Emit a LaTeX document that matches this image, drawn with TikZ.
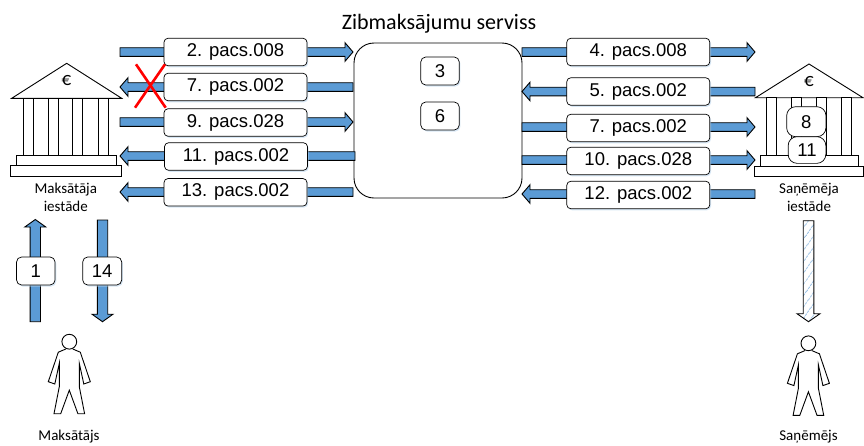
\documentclass[tikz,border=0pt]{standalone}
\usepackage{fontspec}
\setmainfont{Carlito}
\newfontfamily\arialf{Liberation Sans}
\usetikzlibrary{calc,shadows,patterns.meta}
\definecolor{arrowblue}{HTML}{5B9BD5}
\definecolor{stripeblue}{HTML}{9DC3E6}
\definecolor{shadowblue}{HTML}{BDD7EE}
\newcommand\boxfont{\arialf\fontsize{18.5}{22}\selectfont}
% block arrow: #1 extra options, #2 tail coordinate, #3 tip coordinate,
% #4 shaft half width, #5 head half width, #6 head length
\newcommand\blockarrow[6][]{%
  \coordinate (ba-h) at ($(#3)!#6!(#2)$);
  \draw[barrow,#1] ($(#2)!#4!90:(#3)$) -- ($(ba-h)!#4!90:(#3)$) -- ($(ba-h)!#5!90:(#3)$)
    -- (#3) -- ($(ba-h)!#5!-90:(#3)$) -- ($(ba-h)!#4!-90:(#3)$) -- ($(#2)!#4!-90:(#3)$) -- cycle;
}
\newcommand\personfig[2]{%
  \begin{scope}[shift={(#1,#2)}]
    \draw[personline] (0,0) circle (7.4);
    \draw[personline] (-3.5,7.3) -- (-11,10.5) -- (-21,40) -- (-14.5,42.3) -- (-10,21.6)
      -- (-10,45) -- (-15.3,72) -- (-8.6,72) -- (0,48.5) -- (8.6,72) -- (15.3,72)
      -- (10,45) -- (10,21.6) -- (14.5,42.3) -- (21,40) -- (11,10.5) -- (3.5,7.3);
  \end{scope}
}
\begin{document}
\begin{tikzpicture}[x=1pt,y=-1pt,
  lbl/.style={draw=black, line width=0.7pt, fill=white, rounded corners=4pt,
    minimum width=143pt, minimum height=27.5pt, inner sep=0pt, font=\boxfont,
    drop shadow={shadow xshift=1.2pt, shadow yshift=-1.5pt, fill=shadowblue, opacity=0.6}},
  numbox/.style={lbl, minimum width=38.5pt, minimum height=28pt, rounded corners=5pt},
  bankbox/.style={draw=black, line width=0.7pt, fill=white, rounded corners=9pt,
    inner sep=0pt, font=\boxfont},
  barrow/.style={draw=black, line width=0.9pt, fill=arrowblue, line join=miter},
  bankline/.style={draw=black, line width=0.9pt, fill=white},
  personline/.style={draw=black, line width=0.9pt, line join=miter},
  lab/.style={font=\fontsize{15}{18}\selectfont, inner sep=0pt, anchor=base},
  euro/.style={font=\fontsize{19}{21}\selectfont, inner sep=0pt},
]
\useasboundingbox (0,0) rectangle (864,445);

% title and service box
\node[font=\fontsize{22}{26}\selectfont, inner sep=0pt, anchor=base] (title) at (439,29.3) {Zibmaksājumu serviss};
\node[draw=black, line width=0.9pt, rounded corners=20pt, minimum width=168pt,
  minimum height=155pt, inner sep=0pt] (srv) at (438,120.5) {};

% arrow end coordinates, left side
\coordinate (aL1) at (120,52);   \coordinate (bL1) at (353,52);
\coordinate (aL2) at (120,87);   \coordinate (bL2) at (353,87);
\coordinate (aL3) at (120,122);  \coordinate (bL3) at (353,122);
\coordinate (aL4) at (120,156);  \coordinate (bL4) at (355,156);
\coordinate (aL5) at (120,192);  \coordinate (bL5) at (353,192);
% right side
\coordinate (aR1) at (522,52);   \coordinate (bR1) at (755,52);
\coordinate (aR2) at (522,91.5); \coordinate (bR2) at (755,91.5);
\coordinate (aR3) at (522,127);  \coordinate (bR3) at (755,127);
\coordinate (aR4) at (522,160);  \coordinate (bR4) at (755,160);
\coordinate (aR5) at (522,194);  \coordinate (bR5) at (755,194);

\blockarrow{aL1}{bL1}{4.3pt}{9.3pt}{8pt}
\blockarrow{bL2}{aL2}{4.3pt}{9.3pt}{8pt}
\blockarrow{aL3}{bL3}{4.3pt}{9.3pt}{8pt}
\blockarrow{bL4}{aL4}{4.3pt}{9.3pt}{8pt}
\blockarrow{bL5}{aL5}{4.3pt}{9.3pt}{8pt}
\blockarrow{aR1}{bR1}{4.3pt}{9.3pt}{8pt}
\blockarrow{bR2}{aR2}{4.3pt}{9.3pt}{8pt}
\blockarrow{aR3}{bR3}{4.3pt}{9.3pt}{8pt}
\blockarrow{aR4}{bR4}{4.3pt}{9.3pt}{8pt}
\blockarrow{bR5}{aR5}{4.3pt}{9.3pt}{8pt}

% message labels
\node[lbl] (m2)  at (235.5,52)  {2. pacs.008};
\node[lbl] (m7a) at (235.5,87)  {7. pacs.002};
\node[lbl] (m9)  at (235.5,122.5) {9. pacs.028};
\node[lbl] (m11) at (236,156.5) {11. pacs.002};
\node[lbl] (m13) at (235.5,192.3) {13. pacs.002};
\node[lbl] (m4)  at (638.3,52)  {4. pacs.008};
\node[lbl] (m5)  at (638.3,91.5) {5. pacs.002};
\node[lbl] (m7b) at (638.3,128) {7. pacs.002};
\node[lbl] (m10) at (638.3,161) {10. pacs.028};
\node[lbl] (m12) at (638.3,195) {12. pacs.002};

% steps inside the service
\node[numbox] (s3) at (440,71)  {3};
\node[numbox] (s6) at (440,116) {6};

% red cross
\draw[red, line width=2.6pt] (136,64.3) -- (165.7,107.7);
\draw[red, line width=2.6pt] (165,64.3) -- (135,107.7);

% payer bank
\path[bankline] (11.7,98.3) -- (66.7,63.3) -- (121.7,98.3) -- cycle;
\foreach \x in {23.3,48.3,72.7,98.3} \path[bankline] (\x,98.3) rectangle ++(10,56.7);
\path[bankline] (16.7,155) rectangle (116.7,165.7);
\path[bankline] (10.7,165.7) rectangle (121.7,176.7);
\node[euro] (euroL) at (66.5,81) {€};
\node[lab] (bankL1) at (65.8,193) {Maksātāja};
\node[lab] (bankL2) at (65.8,211.5) {iestāde};

% payee bank
\path[bankline] (755.5,97.7) -- (809,64) -- (863,97.7) -- cycle;
\foreach \x in {766.7,791.7,816.7,841.7} \path[bankline] (\x,97.7) rectangle ++(10,57.3);
\path[bankline] (760,155) rectangle (858.3,166);
\path[bankline] (754.3,166) rectangle (863.3,176.7);
\node[euro] (euroR) at (809,82) {€};
\node[bankbox, minimum width=39.3pt, minimum height=30pt] (b8) at (806.3,121.7) {8};
\node[bankbox, minimum width=37.7pt, minimum height=26.7pt] (b11) at (807,150) {11};
\node[lab] (bankR1) at (809,193) {Saņēmēja};
\node[lab] (bankR2) at (809,211.5) {iestāde};

% vertical arrows
\coordinate (v1t) at (35.3,321.7);  \coordinate (v1h) at (35.3,219.5);
\coordinate (v2t) at (102.5,220);   \coordinate (v2h) at (102.5,321.7);
\coordinate (v3t) at (808.5,220.7); \coordinate (v3h) at (808.5,321.7);
\blockarrow{v1t}{v1h}{5.2pt}{10.5pt}{7.5pt}
\blockarrow{v2t}{v2h}{5.2pt}{10.5pt}{7.5pt}
\blockarrow[fill=none, preaction={fill=white},
  preaction={pattern={Lines[angle=55,distance=6.5pt,line width=1pt]}, pattern color=stripeblue}]
  {v3t}{v3h}{5.3pt}{11.5pt}{8pt}
\node[numbox] (n1)  at (35.8,271)  {1};
\node[numbox, minimum width=39pt] (n14) at (102.2,271) {14};

% persons
\personfig{69.3}{341.7}
\personfig{808.4}{343.3}
\node[lab] (payer) at (69,440.5) {Maksātājs};
\node[lab] (payee) at (808.5,440.5) {Saņēmējs};
\end{tikzpicture}
\end{document}
